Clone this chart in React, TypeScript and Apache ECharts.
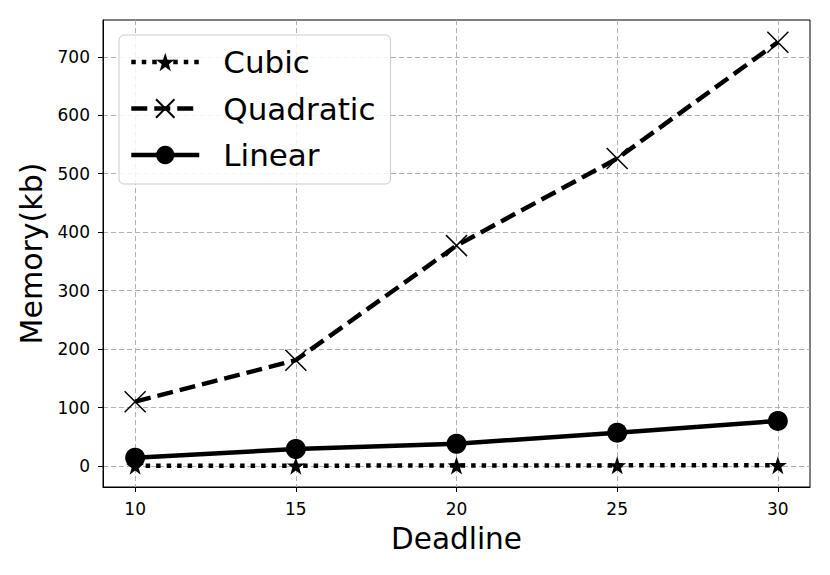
import React, { useEffect, useRef } from "react";
import * as echarts from "echarts";

const deadlines = [10, 15, 20, 25, 30];
const cubic = [0.3, 0.5, 0.7, 1.0, 1.3];
const quadratic = [110, 181, 377, 526, 725];
const linear = [14, 29, 38, 57, 77];
const xTicks = [10, 15, 20, 25, 30];
const yTicks = [0, 100, 200, 300, 400, 500, 600, 700];

function starPath(): string {
  const pts: string[] = [];
  for (let i = 0; i < 10; i++) {
    const r = i % 2 === 0 ? 10 : 3.9;
    const a = -Math.PI / 2 + (i * Math.PI) / 5;
    pts.push(`${(10 + r * Math.cos(a)).toFixed(3)},${(10 + r * Math.sin(a)).toFixed(3)}`);
  }
  return "path://M" + pts.join("L") + "Z";
}

const FONT = "DejaVu Sans";

export default function App() {
  const ref = useRef<HTMLDivElement>(null);
  useEffect(() => {
    if (!ref.current) return;
    const chart = echarts.init(ref.current, undefined, { renderer: "svg" });
    const gridLine = { show: true, lineStyle: { color: "#b0b0b0", width: 1, type: [5, 3] as any } };
    chart.setOption({
      animation: false,
      backgroundColor: "#fff",
      grid: {
        left: 103,
        right: 20,
        top: 20,
        bottom: 88,
        show: true,
        borderColor: "#000",
        borderWidth: 1,
        backgroundColor: "transparent",
      },
      legend: {
        orient: "vertical",
        left: 119,
        top: 35,
        itemWidth: 68,
        itemHeight: 23,
        itemGap: 10.5,
        padding: [9, 15, 11, 10],
        backgroundColor: "rgba(255,255,255,0.85)",
        borderColor: "#cccccc",
        borderWidth: 1,
        borderRadius: 5,
        lineStyle: { width: 4.5 },
        textStyle: {
          fontFamily: FONT,
          fontSize: 31,
          color: "#000",
          lineHeight: 36,
          padding: [0, 0, 0, 19],
        },
        data: ["Cubic", "Quadratic", "Linear"],
      },
      xAxis: {
        type: "value",
        min: 9,
        max: 31,
        name: "Deadline",
        nameLocation: "middle",
        nameGap: 37,
        nameTextStyle: { fontFamily: FONT, fontSize: 29.5, color: "#000" },
        axisLine: { show: true, onZero: false, lineStyle: { color: "#000", width: 1 } },
        axisTick: { show: true, length: 5, customValues: xTicks, lineStyle: { color: "#000" } },
        axisLabel: { customValues: xTicks, margin: 13, fontFamily: FONT, fontSize: 17, color: "#000" },
        splitLine: gridLine,
      },
      yAxis: {
        type: "value",
        min: -36,
        max: 763,
        name: "Memory(kb)",
        nameLocation: "middle",
        nameGap: 56,
        nameTextStyle: { fontFamily: FONT, fontSize: 30, color: "#000" },
        axisLine: { show: true, onZero: false, lineStyle: { color: "#000", width: 1 } },
        axisTick: { show: true, length: 5, customValues: yTicks, lineStyle: { color: "#000" } },
        axisLabel: { customValues: yTicks, margin: 13, fontFamily: FONT, fontSize: 17, color: "#000" },
        splitLine: gridLine,
      },
      series: [
        {
          name: "Cubic",
          type: "line",
          data: deadlines.map((d, i) => [d, cubic[i]]),
          symbol: starPath(),
          symbolSize: 18,
          itemStyle: { color: "#000" },
          lineStyle: { color: "#000", width: 4.5, type: [4.5, 6] as any, cap: "butt" },
          z: 3,
        },
        {
          name: "Quadratic",
          type: "line",
          data: deadlines.map((d, i) => [d, quadratic[i]]),
          symbol: "path://M0,0L10,10M10,0L0,10",
          symbolSize: 21,
          itemStyle: { color: "#000", borderColor: "#000", borderWidth: 1.5 },
          lineStyle: { color: "#000", width: 4.5, type: [16, 7] as any, cap: "butt" },
          z: 2,
        },
        {
          name: "Linear",
          type: "line",
          data: deadlines.map((d, i) => [d, linear[i]]),
          symbol: "circle",
          symbolSize: 20,
          itemStyle: { color: "#000" },
          lineStyle: { color: "#000", width: 4.5 },
          z: 2,
        },
      ],
    });
    return () => chart.dispose();
  }, []);
  return (
    <div
      ref={ref}
      style={{ position: "fixed", left: 0, top: 0, width: 830, height: 575 }}
    />
  );
}
